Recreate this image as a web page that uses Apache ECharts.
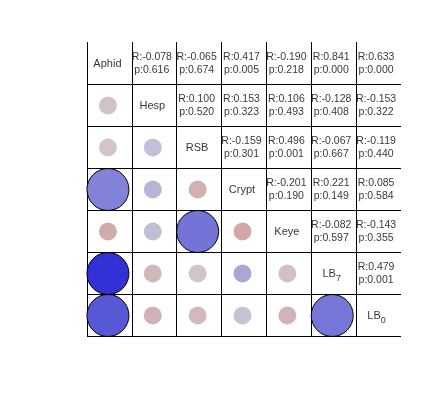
<!DOCTYPE html>
<html>
<head>
<meta charset="utf-8">
<script src="https://cdn.jsdelivr.net/npm/echarts@6/dist/echarts.min.js"></script>
<style>
html,body{margin:0;padding:0;background:#fff;}
#chart{width:448px;height:420px;}
</style>
</head>
<body>
<div id="chart"></div>
<script>
// Variable names (diagonal), with optional subscript part
const varBase = ['Aphid', 'Hesp', 'RSB', 'Crypt', 'Keye', 'LB', 'LB'];
const varSub  = ['', '', '', '', '', '7', '0'];

// Upper-triangle correlations: rValues[i][k] is R between variable i and variable i+1+k
const rValues = [
  [-0.078, -0.065, 0.417, -0.190, 0.841, 0.633],
  [0.100, 0.153, 0.106, -0.128, -0.153],
  [-0.159, 0.496, -0.067, -0.119],
  [-0.201, 0.221, 0.085],
  [-0.082, -0.143],
  [0.479]
];
// Matching p-values
const pValues = [
  [0.616, 0.674, 0.005, 0.218, 0.000, 0.000],
  [0.520, 0.323, 0.493, 0.408, 0.322],
  [0.301, 0.001, 0.667, 0.440],
  [0.190, 0.149, 0.584],
  [0.597, 0.355],
  [0.001]
];

const n = varBase.length;
const circleData = [];
const textData = [];
const diagData = [];
for (let i = 0; i < n; i++) {
  diagData.push({ value: [i + 0.5, n - i - 0.5], name: String(i) });
}
for (let i = 0; i < rValues.length; i++) {
  for (let k = 0; k < rValues[i].length; k++) {
    const j = i + 1 + k;
    const r = rValues[i][k], p = pValues[i][k];
    textData.push({ value: [j + 0.5, n - i - 0.5, r, p] });
    const sig = p < 0.05;
    circleData.push({
      value: [i + 0.5, n - j - 0.5, r, p],
      itemStyle: sig ? { borderColor: '#000', borderWidth: 1, opacity: 1 } : { borderWidth: 0, opacity: 1 }
    });
  }
}

const chart = echarts.init(document.getElementById('chart'), null, { renderer: 'canvas' });
function axisCommon() {
  return {
    type: 'value', min: 0, max: 7, interval: 1,
    axisLine: { show: false }, axisTick: { show: false }, axisLabel: { show: false },
    splitLine: { show: true, showMinLine: true, showMaxLine: false, lineStyle: { color: '#000', width: 1 } }
  };
}
const fontFam = 'Liberation Sans, Arial, sans-serif';
chart.setOption({
  backgroundColor: '#fff',
  animation: false,
  grid: { left: 87, top: 42, width: 314, height: 294 },
  xAxis: axisCommon(),
  yAxis: axisCommon(),
  visualMap: {
    show: false, type: 'continuous', seriesIndex: 0, dimension: 2,
    min: -1, max: 1,
    inRange: { color: ['#c80000', '#ce6868', '#d3d3d5', '#7272d8', '#1212d4'] }
  },
  series: [
    {
      type: 'scatter',
      data: circleData,
      symbol: 'circle',
      symbolOffset: [-1.5, 0.5],
      symbolSize: function (val) { return val[3] < 0.05 ? 42 : 18; },
      itemStyle: { opacity: 1 },
      z: 3
    },
    {
      type: 'scatter',
      data: textData,
      symbolSize: 1,
      itemStyle: { color: 'rgba(0,0,0,0)' },
      label: {
        show: true, position: 'inside', offset: [-2.5, 0.5],
        fontSize: 10.5, lineHeight: 12.5, fontFamily: fontFam, color: '#000',
        formatter: function (prm) {
          const r = prm.value[2], p = prm.value[3];
          return 'R:' + r.toFixed(3) + '\np:' + p.toFixed(3);
        }
      },
      z: 4
    },
    {
      type: 'scatter',
      data: diagData,
      symbolSize: 1,
      itemStyle: { color: 'rgba(0,0,0,0)' },
      label: {
        show: true, position: 'inside', offset: [-2, 1],
        fontSize: 11, fontFamily: fontFam, color: '#000',
        formatter: function (prm) {
          const i = Number(prm.name);
          const b = varBase[i], s = varSub[i];
          return s ? '{m|' + b + '}{s|' + s + '}' : '{m|' + b + '}';
        },
        rich: {
          m: { fontSize: 11, lineHeight: 12, fontFamily: fontFam, color: '#000', verticalAlign: 'top' },
          s: { fontSize: 9, lineHeight: 9, fontFamily: fontFam, color: '#000', padding: [9, 0, 0, 0] }
        }
      },
      z: 4
    }
  ]
});
</script>
</body>
</html>
